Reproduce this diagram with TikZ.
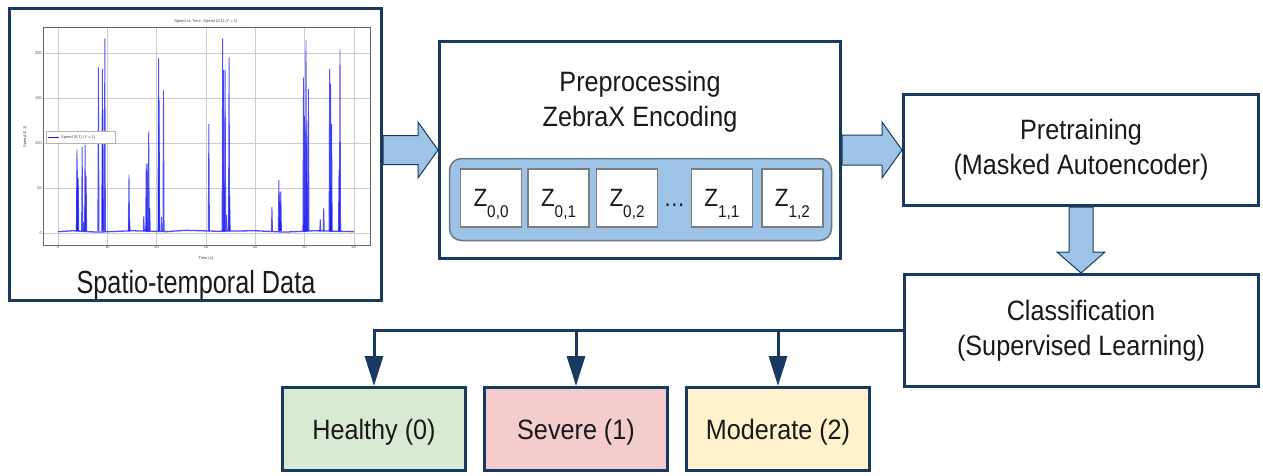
\documentclass[tikz,border=0pt]{standalone}
\usepackage{fontspec}
\setmainfont{Liberation Sans}
\usepackage{graphicx}
\usetikzlibrary{arrows.meta, positioning, calc}

\definecolor{navy}{RGB}{24,58,96}
\definecolor{arrowblue}{RGB}{157,195,230}
\definecolor{tokgray}{RGB}{125,125,125}
\definecolor{contgray}{RGB}{105,118,135}
\definecolor{inkgray}{RGB}{25,25,25}
\definecolor{healthygreen}{RGB}{217,234,211}
\definecolor{severepink}{RGB}{244,204,204}
\definecolor{moderateyellow}{RGB}{255,242,204}
\definecolor{gridgray}{RGB}{205,205,205}
\definecolor{plotblue}{RGB}{20,20,245}

\newcommand{\condensed}[2][0.9]{\scalebox{#1}[1]{#2}}
\newcommand{\ztok}[1]{\condensed{Z\raisebox{-11pt}{\fontsize{17}{17}\selectfont #1}}}

\begin{document}
\begin{tikzpicture}[x=1pt, y=-1pt,
    box/.style={draw=navy, line width=3pt, fill=white, text=inkgray, align=center,
        font=\fontsize{28}{35}\selectfont},
    outbox/.style={box, minimum width=183pt, minimum height=83pt, text height=20pt, text depth=0pt},
    tokbox/.style={draw=tokgray, line width=1.5pt, fill=white, text=inkgray, inner sep=0pt,
        minimum width=61pt, minimum height=58pt, text height=22pt, text depth=6pt,
        font=\fontsize{25}{25}\selectfont},
    fat/.style={draw=navy, line width=1pt, fill=arrowblue},
    conn/.style={draw=navy, line width=3pt, -{Triangle[length=30pt, width=18pt]}},
    gridline/.style={draw=gridgray, line width=0.4pt},
    spike/.style={draw=plotblue, line width=0.9pt, opacity=0.75},
    tiny/.style={font=\fontsize{4}{4}\selectfont, text=black!70, inner sep=1pt}]

\useasboundingbox (0,0) rectangle (1263,475);

% Nodes
\node[box, fill=none, minimum width=372pt, minimum height=292pt] (data) at (195.5,154.5) {};
\node[text=inkgray, font=\fontsize{32}{32}\selectfont, anchor=base] (datatitle) at (196,293)
    {\condensed[0.79]{Spatio-temporal Data}};

\node[box, minimum width=401pt, minimum height=217pt] (pre) at (640,150) {};
\node[text=inkgray, align=center, font=\fontsize{28}{35}\selectfont] (pretitle) at (640,102)
    {\condensed{Preprocessing}\\\condensed{ZebraX Encoding}};
\node[draw=contgray, line width=1.5pt, fill=arrowblue, rounded corners=12pt,
    minimum width=382pt, minimum height=82pt] (tokens) at (640.5,199.5) {};

\node[tokbox] (z00) at (491,198) {\ztok{0,0}};
\node[tokbox, right=5pt of z00] (z01) {\ztok{0,1}};
\node[tokbox, right=6pt of z01] (z02) {\ztok{0,2}};
\node[text=inkgray, inner sep=0pt, minimum width=32pt, text height=22pt, text depth=6pt,
    font=\fontsize{24}{24}\selectfont, right=0pt of z02] (dots) {\condensed{\dots}};
\node[tokbox, right=0pt of dots] (z11) {\ztok{1,1}};
\node[tokbox, right=8pt of z11] (z12) {\ztok{1,2}};

\node[box, minimum width=355pt, minimum height=111pt] (pret) at (1081,150)
    {\condensed{Pretraining}\\\condensed{(Masked Autoencoder)}};
\node[box, minimum width=354pt, minimum height=112pt] (cls) at (1081,330.5)
    {\condensed{Classification}\\\condensed{(Supervised Learning)}};

\node[outbox, fill=healthygreen] (healthy) at (374,429) {\condensed{Healthy (0)}};
\node[outbox, fill=severepink, right=16pt of healthy] (severe) {\condensed{Severe (1)}};
\node[outbox, fill=moderateyellow, right=16pt of severe] (moderate) {\condensed{Moderate (2)}};

% Speed plot
\begin{scope}[shift={(58pt,-233pt)}, x=4.93pt, y=0.9pt]
    \foreach \t in {0,10,...,60} {
        \draw[gridline] (\t,-13.3) -- (\t,228.9);
        \node[tiny, below] (xt\t) at (\t,-13.3) {\t};
    }
    \foreach \v in {0,50,...,200} {
        \draw[gridline] (-3.04,\v) -- (63.3,\v);
        \node[tiny, left] (yt\v) at (-3.04,\v) {\v};
    }
    \draw[black!60, line width=0.4pt] (-3.04,-13.3) rectangle (63.3,228.9);
    \node[tiny] (ptitle) at (30,235) {Speed vs Time: Speed (0,1) (Y = 1)};
    \node[tiny] (pxlabel) at (30,-28) {Time (s)};
    \node[tiny, rotate=90] (pylabel) at (-6.7,107) {Speed (0,1)};
    \draw[spike, line width=1.3pt] (0,1.5) -- (3,2.5) -- (8,1) -- (15,2.5) -- (22,1.5)
        -- (26,3) -- (32,2) -- (40,2.5) -- (46,1) -- (52,2.5) -- (60,1.5);
    \foreach \s/\h in {3.85/93, 3.9/70, 4.1/61, 4.9/96, 5.2/12, 5.5/98, 5.7/63,
        8.2/184, 9.0/182, 9.1/137, 9.5/216, 14.4/65, 14.5/15, 17.4/19, 17.9/77,
        18.1/77, 18.4/113, 18.6/28, 20.4/194, 20.5/148, 21.0/18, 21.4/159,
        30.6/121, 33.4/216, 33.6/181, 33.9/181, 34.2/20, 34.7/195, 34.8/41,
        43.4/29, 44.8/59, 45.0/46, 45.2/46, 49.8/173, 50.0/130, 50.3/214,
        50.5/125, 50.8/160, 53.2/15, 53.9/28, 55.1/182, 55.3/166, 55.4/30,
        55.5/121, 57.0/70, 57.2/204}
        \draw[spike] (\s-0.12,2) -- (\s,\h) -- (\s+0.12,2);
    \draw[fill=white, draw=black!30, line width=0.3pt] (-2.5,100) rectangle (11.5,113);
    \draw[draw=plotblue, line width=0.8pt] (-2,106.5) -- (0.2,106.5);
    \node[tiny, anchor=west] (legend) at (0.4,106.5) {Speed (0,1) (Y = 1)};
\end{scope}

% Arrows
\draw[fat] ($(data.east |- pre.west)+(0,-14.5)$) -- ($(pre.west)+(-20,-14.5)$)
    -- ($(pre.west)+(-20,-28)$) -- (pre.west) -- ($(pre.west)+(-20,28)$)
    -- ($(pre.west)+(-20,14.5)$) -- ($(data.east |- pre.west)+(0,14.5)$) -- cycle;
\draw[fat] ($(pre.east)+(0,-15)$) -- ($(pret.west)+(-20,-15)$)
    -- ($(pret.west)+(-20,-28)$) -- (pret.west) -- ($(pret.west)+(-20,28)$)
    -- ($(pret.west)+(-20,15)$) -- ($(pre.east)+(0,15)$) -- cycle;
\draw[fat] ($(pret.south)+(-12,0)$) -- ($(cls.north)+(-12,-21)$)
    -- ($(cls.north)+(-24,-21)$) -- (cls.north) -- ($(cls.north)+(24,-21)$)
    -- ($(cls.north)+(12,-21)$) -- ($(pret.south)+(12,0)$) -- cycle;

\draw[conn] (cls.west) -| (healthy.north);
\draw[conn] (cls.west) -| (severe.north);
\draw[conn] (cls.west) -| (moderate.north);
\end{tikzpicture}
\end{document}
